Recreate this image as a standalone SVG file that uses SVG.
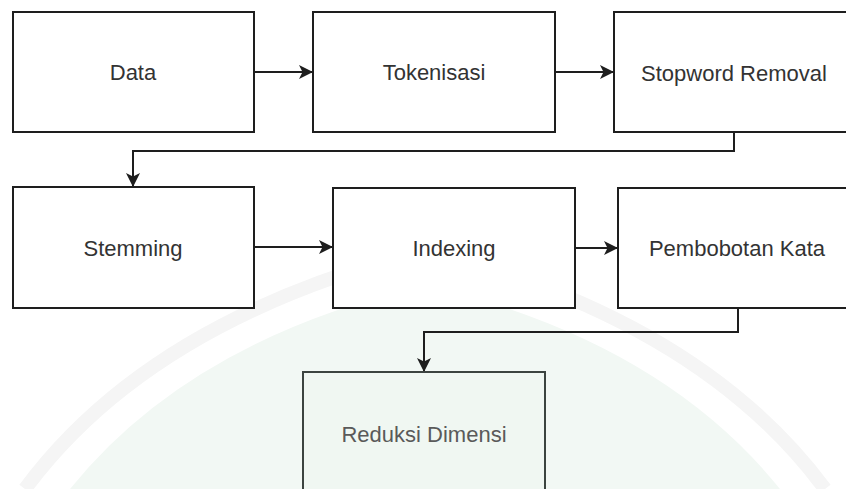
<svg xmlns="http://www.w3.org/2000/svg" width="846" height="489" viewBox="0 0 846 489">
<style>
.box{fill:#ffffff;stroke:#1e1e1e;stroke-width:2}
.lbl{font-family:"Liberation Sans",Arial,sans-serif;font-size:22px;fill:#333333;text-anchor:middle}
.edge{fill:none;stroke:#1e1e1e;stroke-width:2}
.wm{fill:none;stroke:#f5f5f5;stroke-width:14}
</style>
<defs>
<marker id="ah" markerWidth="14" markerHeight="14" refX="13" refY="7" orient="auto" markerUnits="userSpaceOnUse">
<path d="M0,0 L14,7 L0,14 L3.5,7 Z" fill="#1e1e1e"/>
</marker>
</defs>
<rect width="846" height="489" fill="#ffffff"/>
<g id="watermark">
<path d="M70,489 Q190,340 425,285 Q660,340 780,489 Z" fill="#f2f8f4"/>
<path class="wm" d="M25,489 Q150,320 425,250 Q700,320 825,489"/>
</g>
<g id="connectors">
<path class="edge" d="M254,72 L312,72" marker-end="url(#ah)"/>
<path class="edge" d="M555,72 L613,72" marker-end="url(#ah)"/>
<path class="edge" d="M734,132 L734,151 L133,151 L133,186" marker-end="url(#ah)"/>
<path class="edge" d="M254,247 L332,247" marker-end="url(#ah)"/>
<path class="edge" d="M575,248 L617,248" marker-end="url(#ah)"/>
<path class="edge" d="M738,308 L738,332 L424,332 L424,371" stroke="#444" marker-end="url(#ah)"/>
</g>
<g id="n-data">
<rect class="box" x="13" y="12" width="241" height="120"/>
<text class="lbl" x="133" y="80">Data</text>
</g>
<g id="n-tokenisasi">
<rect class="box" x="313" y="12" width="242" height="120"/>
<text class="lbl" x="434" y="80">Tokenisasi</text>
</g>
<g id="n-stopword">
<rect class="box" x="614" y="12" width="242" height="120"/>
<text class="lbl" x="734" y="81">Stopword Removal</text>
</g>
<g id="n-stemming">
<rect class="box" x="13" y="187" width="241" height="121"/>
<text class="lbl" x="133" y="256">Stemming</text>
</g>
<g id="n-indexing">
<rect class="box" x="333" y="188" width="242" height="120"/>
<text class="lbl" x="454" y="256">Indexing</text>
</g>
<g id="n-pembobotan">
<rect class="box" x="618" y="188" width="242" height="120"/>
<text class="lbl" x="737" y="256">Pembobotan Kata</text>
</g>
<g id="n-reduksi">
<rect class="box" x="303" y="372" width="242" height="130" style="fill:#f0f7f2;stroke:#3c4440"/>
<text class="lbl" x="424" y="442" style="fill:#5a5a5a">Reduksi Dimensi</text>
</g>
</svg>
